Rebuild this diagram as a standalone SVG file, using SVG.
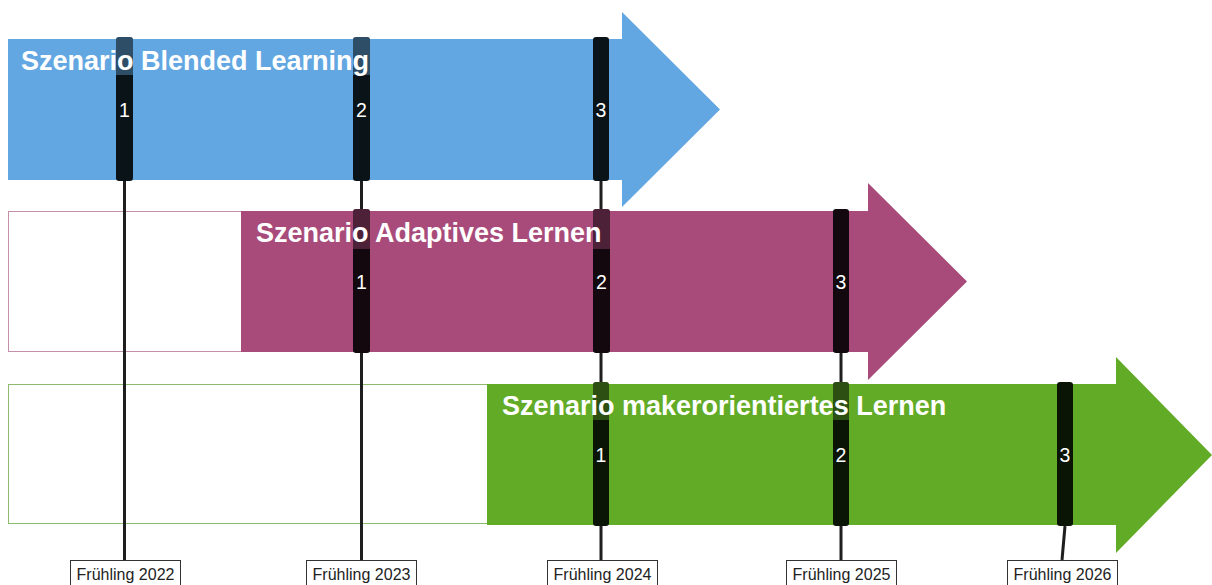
<svg xmlns="http://www.w3.org/2000/svg" width="1212" height="585" viewBox="0 0 1212 585">
<style>
.title{font-family:"Liberation Sans",Arial,sans-serif;font-weight:bold;font-size:27px;fill:#ffffff}
.num{font-family:"Liberation Sans",Arial,sans-serif;font-size:19.5px;fill:#ffffff;text-anchor:middle}
.lbl{font-family:"Liberation Sans",Arial,sans-serif;font-size:16px;fill:#222222;text-anchor:middle}
.lblbox{fill:#ffffff;stroke:#333333;stroke-width:1}
.bar{rx:3;ry:3}
.conn{stroke:#1e1e1e;stroke-width:3;fill:none}
</style>
<defs>
<clipPath id="clipBlue"><rect x="116" y="37" width="17" height="144" rx="3"/><rect x="353" y="37" width="17" height="144" rx="3"/></clipPath>
<clipPath id="clipPink"><rect x="353" y="209" width="17" height="144" rx="3"/><rect x="593" y="209" width="17" height="144" rx="3"/></clipPath>
<clipPath id="clipGreen"><rect x="593" y="382" width="16" height="144" rx="3"/><rect x="833" y="382" width="16" height="144" rx="3"/></clipPath>
</defs>
<rect width="1212" height="585" fill="#ffffff"/>
<g id="scenario-blended">
<polygon points="8,39 622,39 622,12 720,109.5 622,207 622,180 8,180" fill="#63a7e2"/>
</g>
<g id="scenario-adaptiv">
<rect x="8.5" y="211.5" width="233" height="140" fill="#ffffff" stroke="#c48fa9" stroke-width="1"/>
<polygon points="241,211 868,211 868,183 967,281.5 868,380 868,352 241,352" fill="#a84b7a"/>
</g>
<g id="scenario-maker">
<rect x="8.5" y="384.5" width="479" height="139" fill="#ffffff" stroke="#8dbd6c" stroke-width="1"/>
<polygon points="487,384 1116,384 1116,357 1212,455 1116,553 1116,525 487,525" fill="#62ab26"/>
</g>
<g id="connectors">
<line class="conn" x1="124.5" y1="181" x2="124.5" y2="560"/>
<line class="conn" x1="361.5" y1="181" x2="361.5" y2="560"/>
<line class="conn" x1="601" y1="181" x2="601" y2="560" stroke-width="2.5"/>
<line class="conn" x1="841" y1="352" x2="841" y2="560"/>
<line class="conn" x1="1065" y1="526" x2="1062" y2="560"/>
</g>
<g id="milestones-blended" fill="#0a1318">
<rect class="bar" x="116" y="37" width="17" height="144"/>
<rect class="bar" x="353" y="37" width="17" height="144"/>
<rect class="bar" x="593" y="37" width="16" height="144"/>
</g>
<g id="milestones-adaptiv" fill="#12080d">
<rect class="bar" x="353" y="209" width="17" height="144"/>
<rect class="bar" x="593" y="209" width="17" height="144"/>
<rect class="bar" x="833" y="209" width="16" height="144"/>
</g>
<g id="milestones-maker" fill="#0b1505">
<rect class="bar" x="593" y="382" width="16" height="144"/>
<rect class="bar" x="833" y="382" width="16" height="144"/>
<rect class="bar" x="1057" y="382" width="16" height="144"/>
</g>
<g id="title-blended">
<rect x="18" y="36" width="356" height="39" fill="#63a7e2" opacity="0.4" clip-path="url(#clipBlue)"/>
<text class="title" x="21" y="70">Szenario Blended Learning</text>
</g>
<g id="title-adaptiv">
<rect x="253" y="208" width="358" height="41" fill="#a84b7a" opacity="0.4" clip-path="url(#clipPink)"/>
<text class="title" x="256" y="242">Szenario Adaptives Lernen</text>
</g>
<g id="title-maker">
<rect x="499" y="381" width="454" height="39" fill="#62ab26" opacity="0.4" clip-path="url(#clipGreen)"/>
<text class="title" x="502" y="415">Szenario makerorientiertes Lernen</text>
</g>
<g id="numbers">
<text class="num" x="124.5" y="117">1</text>
<text class="num" x="361.5" y="117">2</text>
<text class="num" x="601" y="117">3</text>
<text class="num" x="361.5" y="289">1</text>
<text class="num" x="601.5" y="289">2</text>
<text class="num" x="841" y="289">3</text>
<text class="num" x="601" y="462">1</text>
<text class="num" x="841" y="462">2</text>
<text class="num" x="1065" y="462">3</text>
</g>
<g id="label-2022"><rect class="lblbox" x="70.5" y="560.5" width="110" height="30"/><text class="lbl" x="125.5" y="580">Frühling 2022</text></g>
<g id="label-2023"><rect class="lblbox" x="306.5" y="560.5" width="110" height="30"/><text class="lbl" x="361.5" y="580">Frühling 2023</text></g>
<g id="label-2024"><rect class="lblbox" x="547.5" y="560.5" width="110" height="30"/><text class="lbl" x="602.5" y="580">Frühling 2024</text></g>
<g id="label-2025"><rect class="lblbox" x="786.5" y="560.5" width="110" height="30"/><text class="lbl" x="841.5" y="580">Frühling 2025</text></g>
<g id="label-2026"><rect class="lblbox" x="1007.5" y="560.5" width="110" height="30"/><text class="lbl" x="1062.5" y="580">Frühling 2026</text></g>
</svg>
